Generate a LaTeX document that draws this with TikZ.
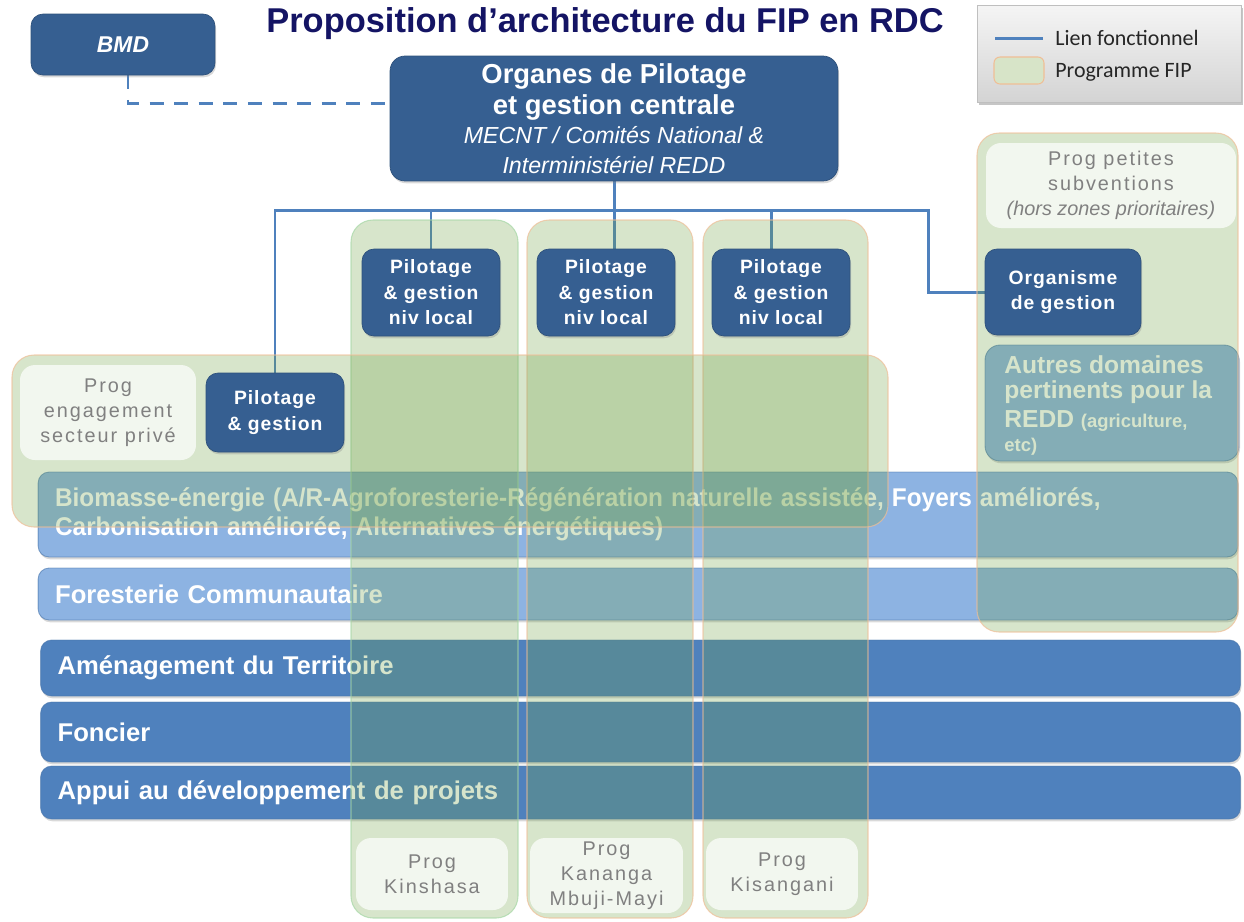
\documentclass[tikz,border=0pt]{standalone}
\usepackage{fontspec}
\setmainfont{Liberation Sans}
\newfontfamily\spacedfont[LetterSpace=10]{Liberation Sans}
\newfontfamily\tightspaced[LetterSpace=5]{Liberation Sans}
\newfontfamily\legendfont{Carlito}
\usetikzlibrary{shadows,calc}
\pgfdeclarelayer{under}
\pgfdeclarelayer{veil}
\pgfsetlayers{under,veil,main}

\definecolor{navy}{RGB}{20,20,100}
\definecolor{boxblue}{RGB}{54,95,145}
\definecolor{linkblue}{RGB}{79,129,189}
\definecolor{bandlight}{RGB}{141,179,226}
\definecolor{banddark}{RGB}{79,129,189}
\definecolor{fipgreen}{RGB}{110,160,70}
\definecolor{swatchgreen}{RGB}{215,228,200}
\definecolor{labelgray}{RGB}{128,128,128}
\definecolor{peach}{RGB}{240,190,150}
\definecolor{mint}{RGB}{165,215,165}

\tikzset{
  softshadow/.style={drop shadow={shadow xshift=0.6pt, shadow yshift=-1.3pt, opacity=0.3}},
  darkbox/.style={rounded corners=0.24cm, fill=boxblue, draw=boxblue!85!black, line width=0.4pt,
    text=white, align=center, inner sep=0pt, softshadow,
    font={\fontsize{11}{14.5}\selectfont\tightspaced\bfseries}},
  labelbox/.style={rounded corners=0.3cm, fill=white, fill opacity=0.7, text opacity=1,
    text=labelgray, align=center, inner sep=0pt,
    font={\fontsize{11.3}{14.2}\selectfont\spacedfont}},
  band/.style={rounded corners=0.22cm, draw=banddark!90!black, draw opacity=0.6, line width=0.5pt,
    text=white, align=left, inner xsep=0.34cm, inner ysep=0pt, softshadow,
    minimum width=24cm, text width=23.32cm,
    font={\fontsize{14.6}{16.4}\selectfont\bfseries}},
  veil/.style={rounded corners=0.44cm, fill=fipgreen, fill opacity=0.28,
    draw=peach, draw opacity=0.7, line width=0.6pt},
  link/.style={draw=linkblue, line width=1.7pt},
  legendtext/.style={anchor=west, inner sep=0pt, text=black!85,
    font={\legendfont\fontsize{12.5}{14}\selectfont}},
}

\begin{document}
\begin{tikzpicture}[x=0.02cm,y=-0.02cm]
\useasboundingbox (0,0) rectangle (1244,921);

% ---------- title ----------
\node[font={\fontsize{19.6}{22}\selectfont\bfseries}, text=navy] (title) at (605,24)
  {Proposition d’architecture du FIP en RDC};

% ---------- legend ----------
\node[rectangle, top color=black!4, bottom color=black!17, draw=black!25, line width=0.4pt,
      drop shadow={shadow xshift=1.2pt, shadow yshift=-1.5pt, opacity=0.45},
      minimum width=5.28cm, minimum height=1.94cm] (legend) at (1109,53.5) {};
\coordinate (lgA) at (995,38);
\coordinate (lgB) at (1043,38);
\draw[link] (lgA) -- (lgB);
\node[legendtext] (lgt1) at (1055,38) {Lien fonctionnel};
\node[rounded corners=0.12cm, fill=swatchgreen, draw=peach, line width=0.6pt,
      minimum width=1.0cm, minimum height=0.54cm] (swatch) at (1019,70.5) {};
\node[legendtext] (lgt2) at (1055,72) {Programme FIP};

% ---------- central bodies ----------
\node[darkbox, minimum width=3.68cm, minimum height=1.22cm,
      font={\fontsize{13}{15}\selectfont\bfseries\itshape}] (bmd) at (123,44.5) {BMD};
\node[darkbox, minimum width=8.96cm, minimum height=2.5cm, rounded corners=0.3cm] (central) at (614,118.5)
  {{\fontsize{15.6}{16.4}\selectfont\rmfamily\bfseries Organes de Pilotage}\\[2.2pt]
   {\fontsize{15.6}{16.4}\selectfont\rmfamily\bfseries et gestion centrale}\\[1.8pt]
   {\fontsize{13.2}{16.4}\selectfont\rmfamily\mdseries\itshape MECNT / Comités National \&}\\[2.6pt]
   {\fontsize{13.2}{16.4}\selectfont\rmfamily\mdseries\itshape Interministériel REDD}};

% ---------- local steering bodies ----------
\node[darkbox, minimum width=2.76cm, minimum height=1.74cm] (l1) at (431,292.5) {Pilotage\\\& gestion\\niv local};
\node[darkbox, minimum width=2.76cm, minimum height=1.74cm] (l2) at (606,292.5) {Pilotage\\\& gestion\\niv local};
\node[darkbox, minimum width=2.76cm, minimum height=1.74cm] (l3) at (781,292.5) {Pilotage\\\& gestion\\niv local};
\node[darkbox, minimum width=2.76cm, minimum height=1.58cm] (pg) at (275,412.5) {Pilotage\\\& gestion};
\node[darkbox, minimum width=3.12cm, minimum height=1.72cm] (org) at (1063,292) {Organisme\\de gestion};

% ---------- programme labels ----------
\node[labelbox, minimum width=3.52cm, minimum height=1.9cm] (priv) at (108,412.5)
  {Prog\\engagement\\secteur privé};
\node[labelbox, minimum width=5.0cm, minimum height=1.7cm] (subv) at (1111,185.5)
  {Prog petites\\subventions\\{\rmfamily\itshape (hors zones prioritaires)}};
\node[labelbox, minimum width=3.04cm, minimum height=1.44cm] (kin) at (432,874) {Prog\\Kinshasa};
\node[labelbox, minimum width=3.06cm, minimum height=1.5cm] (kan) at (606.5,875.5) {Prog\\Kananga\\Mbuji-Mayi};
\node[labelbox, minimum width=3.04cm, minimum height=1.44cm] (kis) at (782,874) {Prog\\Kisangani};

% ---------- thematic bands and links (below the programme areas) ----------
\begin{pgfonlayer}{under}
  \node[band, fill=bandlight, minimum height=1.70cm] (bio) at (638,514.5)
    {\scalebox{0.95}[1]{Biomasse-énergie (A/R-Agroforesterie-Régénération naturelle assistée, Foyers améliorés,}\\
     \scalebox{0.95}[1]{Carbonisation améliorée, Alternatives énergétiques)}};
  \node[band, fill=bandlight, minimum height=1.04cm] (forest) at (638,594) {Foresterie Communautaire};
  \node[band, fill=banddark, minimum height=1.12cm] (amen) at (640.5,668) {Aménagement du Territoire};
  \node[band, fill=banddark, minimum height=1.20cm] (fonc) at (640.5,732) {Foncier};
  \node[band, fill=banddark, minimum height=1.06cm] (appui) at (640.5,792.5) {Appui au développement de projets};

  \node[rounded corners=0.3cm, fill=bandlight, draw=banddark!90!black, draw opacity=0.6, line width=0.5pt,
        softshadow, minimum width=5.08cm, minimum height=2.32cm] (autres) at (1112,403) {};
  \node[anchor=north west, align=left, inner sep=0pt, text=white] (autrestxt) at (1004,355)
    {{\fontsize{14}{15.3}\selectfont\bfseries Autres domaines}\\[2.6pt]
     {\fontsize{14}{15.3}\selectfont\bfseries pertinents pour la}\\[2.6pt]
     {\fontsize{14}{15.3}\selectfont\bfseries REDD }{\fontsize{10.5}{15.3}\selectfont\bfseries (agriculture,}\\[2pt]
     {\fontsize{10.5}{15.3}\selectfont\bfseries etc)}};

  % links
  \coordinate (hub) at ($(central.south)+(0,29)$);
  \coordinate (elbow) at (928,210);
  \coordinate (bmdjoin) at ($(central.west)+(0,-15.5)$);
  \coordinate (l3top) at ($(l3.north)+(-10,0)$);
  \draw[link, dash pattern=on 8pt off 6pt] ($(bmd.south)+(5,0)$) |- (bmdjoin);
  \draw[link] (central.south) -- (hub);
  \draw[link] (pg.north) |- (elbow) |- (org.west);
  \draw[link] (l1.north) -- (l1.north |- hub);
  \draw[link] (hub) -- (hub |- l2.north);
  \draw[link] (l3top) -- (l3top |- hub);
\end{pgfonlayer}

% ---------- FIP programme areas ----------
\begin{pgfonlayer}{veil}
  \path[veil, draw=mint] (351,220) rectangle (518,918);
  \path[veil] (527,220) rectangle (693,918);
  \path[veil] (703,220) rectangle (868,918);
  \path[veil] (12,355) rectangle (888,527);
  \path[veil] (977,133) rectangle (1238,632);
\end{pgfonlayer}

\end{tikzpicture}
\end{document}
